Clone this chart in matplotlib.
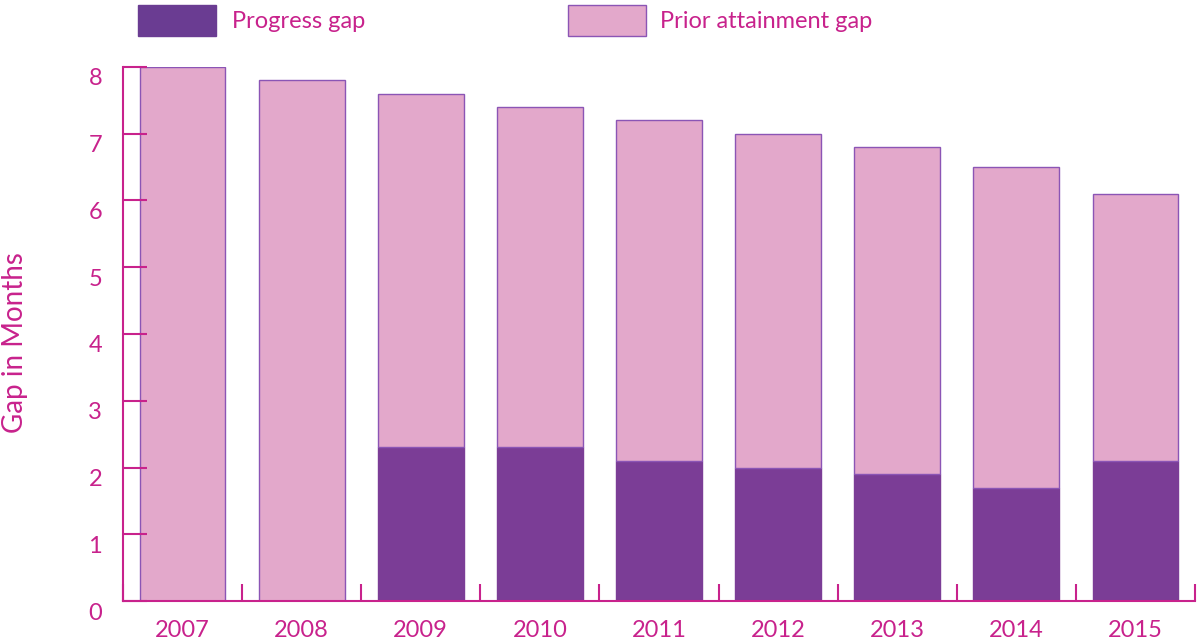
import numpy as np
import matplotlib.pyplot as plt
import matplotlib.transforms as mtransforms
from matplotlib.patches import Rectangle

years = ['2007', '2008', '2009', '2010', '2011', '2012', '2013', '2014', '2015']
total_gap = [8.0, 7.8, 7.6, 7.4, 7.2, 7.0, 6.8, 6.5, 6.1]
progress_gap = [0, 0, 2.3, 2.3, 2.1, 2.0, 1.9, 1.7, 2.1]
prior_gap = [t - p for t, p in zip(total_gap, progress_gap)]

dark = '#7B3D96'
light = '#E3A8CB'
edge = '#8B55B5'
txt = '#C8228C'

plt.rcParams['font.family'] = ['Lato', 'DejaVu Sans']

fig = plt.figure(figsize=(12.01, 6.41), dpi=100)
ax = fig.add_axes([123 / 1201, 40 / 641, 1072 / 1201, 534 / 641])

x = np.arange(len(years))
ax.bar(x, progress_gap, width=0.72, color=dark, edgecolor=dark, linewidth=1)
ax.bar(x, prior_gap, width=0.72, bottom=progress_gap, color=light, edgecolor=edge, linewidth=1)

ax.set_xlim(-0.5, len(years) - 0.5)
ax.set_ylim(0, 8)
ax.set_xticks(x)
ax.set_xticklabels(years)
ax.set_xticks(np.arange(-0.5, len(years)), minor=True)
ax.tick_params(axis='x', which='major', length=0, pad=14, labelsize=17, labelcolor=txt)
ax.tick_params(axis='x', which='minor', direction='in', length=12, color=txt, width=1.5)
ax.set_yticks(range(0, 9))
ax.tick_params(axis='y', direction='in', length=17, color=txt, width=1.5, pad=15,
               labelsize=17, labelcolor=txt)
# labels sit a little below their ticks in the original
shift = mtransforms.ScaledTranslation(0, -10 / 100, fig.dpi_scale_trans)
for lbl in ax.get_yticklabels():
    lbl.set_transform(lbl.get_transform() + shift)

for s in ['top', 'right']:
    ax.spines[s].set_visible(False)
for s in ['left', 'bottom']:
    ax.spines[s].set_color(txt)
    ax.spines[s].set_linewidth(1.5)

fig.text(15 / 1201, 1 - 343 / 641, 'Gap in Months', rotation=90, ha='center', va='center',
         fontsize=20, color=txt)

# legend
fig.add_artist(Rectangle((138 / 1201, 1 - 36 / 641), 78 / 1201, 31 / 641,
                         transform=fig.transFigure, facecolor='#6A3C92', edgecolor='#6A3C92'))
fig.text(232 / 1201, 1 - 22 / 641, 'Progress gap', fontsize=17, color=txt, va='center')
fig.add_artist(Rectangle((568 / 1201, 1 - 36 / 641), 78 / 1201, 31 / 641,
                         transform=fig.transFigure, facecolor=light, edgecolor=edge))
fig.text(660 / 1201, 1 - 22 / 641, 'Prior attainment gap', fontsize=17, color=txt, va='center')

fig.savefig('out.png', dpi=100)
